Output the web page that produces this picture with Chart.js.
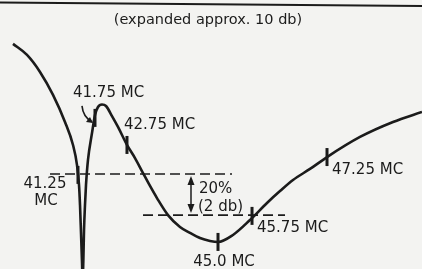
<!DOCTYPE html>
<html>
<head>
<meta charset="utf-8">
<script src="https://cdn.jsdelivr.net/npm/chart.js@4.4.1/dist/chart.umd.min.js"></script>
<style>
  html, body { margin: 0; padding: 0; background: #f3f3f1; }
  #wrap { width: 422px; height: 269px; position: relative; }
</style>
</head>
<body>
<div id="wrap"><canvas id="chart" width="422" height="269"></canvas></div>
<script>
// Response curve: x = position along the sweep (% of width), y = level in db (0 = top of the 41.75 peak)
const sweepPos = [3.08, 6.40, 9.48, 12.56, 15.40, 17.30, 18.25, 18.72, 18.96, 19.19, 19.43, 19.57, 19.74,
    19.91, 20.14, 20.38, 20.85, 21.80, 22.51, 23.22, 24.17, 25.12, 26.54, 27.96, 30.09, 31.99, 33.89,
    35.55, 37.20, 39.81, 42.65, 45.02, 47.39, 49.76, 51.66, 55.21, 59.24, 63.27, 66.35, 69.43, 73.46,
    77.49, 85.31, 93.13, 100.0];
const levelDb = [2.98, 2.44, 1.61, 0.49, -0.83, -1.95, -2.93, -3.90, -4.88, -6.20, -7.66, -8.54, -7.66,
    -6.10, -4.88, -3.90, -2.68, -1.37, -0.49, -0.10, 0.02, -0.05, -0.54, -1.07, -1.95, -2.59, -3.32,
    -3.95, -4.54, -5.37, -5.95, -6.24, -6.49, -6.63, -6.68, -6.34, -5.61, -4.78, -4.20, -3.66, -3.12,
    -2.54, -1.56, -0.83, -0.34];

// Frequency markers on the curve
const markerNames = ['41.25', '41.75 MC', '42.75 MC', '45.0 MC', '45.75 MC', '47.25 MC'];
const markerPos = [18.48, 22.51, 30.09, 51.66, 59.72, 77.49];
const markerDb = [-3.41, -0.63, -1.95, -6.68, -5.41, -2.54];

// The 20% (2 db) reference levels
const refUpperDb = -3.37;
const refLowerDb = -5.37;
const refUpperSpan = [11.85, 54.98];
const refLowerSpan = [33.89, 67.54];
const refArrowPos = 45.26;

const titleText = '(expanded approx. 10 db)';
const ink = '#1b1b1b';
const labelFont = '15px "DejaVu Sans", sans-serif';

// label placement relative to each marker (px)
const labelStyle = [
    { dx: -33, dy: 9, align: 'center', extra: 'MC' },
    { dx: -22, dy: -25, align: 'left' },
    { dx: -3, dy: -20, align: 'left' },
    { dx: 6, dy: 20, align: 'center' },
    { dx: 5, dy: 12, align: 'left' },
    { dx: 5, dy: 13, align: 'left' }
];

const curve = sweepPos.map((x, i) => ({ x: x, y: levelDb[i] }));
const markers = markerPos.map((x, i) => ({ x: x, y: markerDb[i] }));

const dashed = {
    borderColor: ink,
    borderWidth: 1.6,
    borderDash: [10, 5],
    pointRadius: 0,
    fill: false
};

const annotations = {
    id: 'annotations',
    afterDatasetsDraw(chart) {
        const ctx = chart.ctx;
        const xs = chart.scales.x;
        const ys = chart.scales.y;
        ctx.save();

        // top rule
        ctx.strokeStyle = ink;
        ctx.lineWidth = 2;
        ctx.beginPath();
        ctx.moveTo(0, 2.5);
        ctx.lineTo(422, 6);
        ctx.stroke();

        ctx.fillStyle = ink;
        ctx.textBaseline = 'middle';
        ctx.font = '14.5px "DejaVu Sans", sans-serif';
        ctx.textAlign = 'center';
        ctx.fillText(titleText, 208, 20);

        // marker labels
        ctx.font = labelFont;
        const meta = chart.getDatasetMeta(1);
        meta.data.forEach((pt, i) => {
            const s = labelStyle[i];
            ctx.textAlign = s.align;
            ctx.fillText(markerNames[i], pt.x + s.dx, pt.y + s.dy);
            if (s.extra) ctx.fillText(s.extra, pt.x + s.dx + 1, pt.y + s.dy + 17);
        });

        // curved pointer to the 41.75 marker
        const p = meta.data[1];
        ctx.lineWidth = 1.6;
        ctx.beginPath();
        ctx.moveTo(p.x - 13, p.y - 12);
        ctx.quadraticCurveTo(p.x - 12, p.y - 1, p.x - 3, p.y + 4);
        ctx.stroke();
        ctx.beginPath();
        ctx.moveTo(p.x - 2, p.y + 5);
        ctx.lineTo(p.x - 9, p.y + 4);
        ctx.lineTo(p.x - 5, p.y - 1);
        ctx.closePath();
        ctx.fill();

        // double arrow between the reference levels
        const ax = xs.getPixelForValue(refArrowPos);
        const y1 = ys.getPixelForValue(refUpperDb) + 2;
        const y2 = ys.getPixelForValue(refLowerDb) - 2;
        ctx.lineWidth = 1.5;
        ctx.beginPath();
        ctx.moveTo(ax, y1 + 6);
        ctx.lineTo(ax, y2 - 6);
        ctx.stroke();
        [[y1, 1], [y2, -1]].forEach(([y, d]) => {
            ctx.beginPath();
            ctx.moveTo(ax, y);
            ctx.lineTo(ax - 3.5, y + 9 * d);
            ctx.lineTo(ax + 3.5, y + 9 * d);
            ctx.closePath();
            ctx.fill();
        });
        ctx.textAlign = 'left';
        ctx.fillText('20%', ax + 8, (y1 + y2) / 2 - 5);
        ctx.fillText('(2 db)', ax + 7, (y1 + y2) / 2 + 13);

        ctx.restore();
    }
};

new Chart(document.getElementById('chart'), {
    type: 'line',
    data: {
        datasets: [
            {
                data: curve,
                borderColor: ink,
                borderWidth: 2.6,
                pointRadius: 0,
                cubicInterpolationMode: 'monotone',
                fill: false
            },
            {
                data: markers,
                showLine: false,
                pointStyle: 'line',
                rotation: 90,
                pointRadius: 9,
                pointBorderWidth: 3,
                pointBorderColor: ink,
                pointBackgroundColor: ink
            },
            Object.assign({ data: [{ x: refUpperSpan[0], y: refUpperDb }, { x: refUpperSpan[1], y: refUpperDb }] }, dashed),
            Object.assign({ data: [{ x: refLowerSpan[0], y: refLowerDb }, { x: refLowerSpan[1], y: refLowerDb }] }, dashed)
        ]
    },
    options: {
        responsive: false,
        animation: false,
        layout: { padding: 0, autoPadding: false },
        plugins: { legend: { display: false }, tooltip: { enabled: false } },
        scales: {
            x: { type: 'linear', min: 0, max: 100, display: false },
            y: { type: 'linear', min: -8.0, max: 5.12, display: false }
        }
    },
    plugins: [annotations]
});
</script>
</body>
</html>
